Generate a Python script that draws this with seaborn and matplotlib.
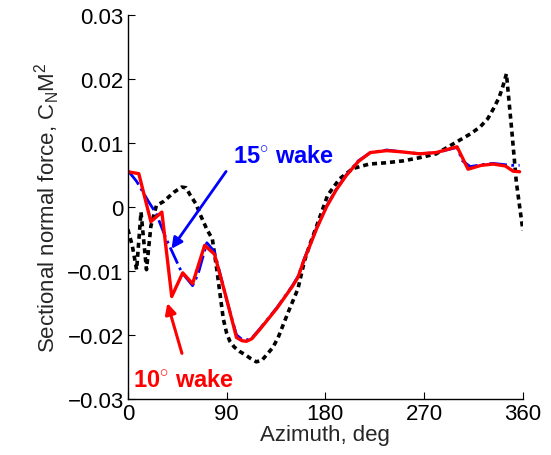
import numpy as np
import pandas as pd
import seaborn as sns
import matplotlib.pyplot as plt
from matplotlib.ticker import FuncFormatter

# azimuth (deg) and sectional normal force C_N M^2
black_az = [0, 4, 8, 12, 17, 21, 26, 33, 42, 49, 53, 57, 62, 66, 72, 77, 81, 87, 90, 93,
            97, 102, 107, 112, 117, 122, 126, 132, 137, 146, 155, 161, 166, 172, 182, 193,
            205, 220, 235, 251, 266, 281, 294, 303, 312, 321, 328, 333, 338, 341,
            345, 350, 354, 360]
black_cn = [-0.0035, -0.0060, -0.0098, -0.0008, -0.0098, -0.0030, 0.0002, 0.0009, 0.0023,
            0.0031, 0.0030, 0.0018, 0.0005, -0.0012, -0.0035, -0.0050, -0.0097, -0.0175,
            -0.0197, -0.0210, -0.0219, -0.0226, -0.0231, -0.0237, -0.0242, -0.0240, -0.0232,
            -0.0220, -0.0204, -0.0165, -0.0128, -0.0084, -0.0058, -0.0030, 0.0018, 0.0044,
            0.0060, 0.0067, 0.0069, 0.0072, 0.0077, 0.0083, 0.0096, 0.0105, 0.0114, 0.0125,
            0.0138, 0.0153, 0.0170, 0.0184, 0.0208, 0.0117, 0.0039, -0.0037]

blue_az = [0, 8, 19, 26, 35, 42, 49, 59, 64, 72, 79, 90, 99, 104, 108, 113, 120, 128, 136,
           143, 150, 155, 161, 166, 172, 181, 190, 199, 210, 221, 236, 250, 266, 281, 300,
           305, 312, 322, 333, 344, 350, 357]
blue_cn = [0.0057, 0.0040, 0.0008, -0.0011, -0.0050, -0.0076, -0.0102, -0.0123, -0.0105,
           -0.0056, -0.0070, -0.0145, -0.0200, -0.0207, -0.0208, -0.0205, -0.0191, -0.0174,
           -0.0157, -0.0140, -0.0123, -0.0109, -0.0080, -0.0059, -0.0033, 0.0001, 0.0028,
           0.0050, 0.0072, 0.0085, 0.0089, 0.0086, 0.0083, 0.0085, 0.0093, 0.0072,
           0.0063, 0.0066, 0.0068, 0.0066, 0.0065, 0.0065]

red_az = [0, 10, 21, 31, 40, 50, 59, 70, 79, 90, 99, 104, 108, 113, 120, 128, 136, 143,
          150, 155, 161, 166, 172, 181, 190, 199, 210, 221, 236, 250, 266, 281, 300, 310,
          322, 333, 344, 351, 357]
red_cn = [0.0055, 0.0052, -0.0023, -0.0008, -0.0140, -0.0103, -0.0120, -0.0060, -0.0074,
          -0.0144, -0.0204, -0.0209, -0.0210, -0.0206, -0.0192, -0.0175, -0.0158, -0.0141,
          -0.0124, -0.0110, -0.0081, -0.0060, -0.0034, 0.0000, 0.0027, 0.0049, 0.0071,
          0.0085, 0.0088, 0.0086, 0.0083, 0.0085, 0.0094, 0.0059, 0.0065, 0.0067,
          0.0064, 0.0056, 0.0055]

xticks = [0, 90, 180, 270, 360]
yticks = [-0.03, -0.02, -0.01, 0, 0.01, 0.02, 0.03]

black = pd.DataFrame({"az": black_az, "cn": black_cn})
blue = pd.DataFrame({"az": blue_az, "cn": blue_cn})
red = pd.DataFrame({"az": red_az, "cn": red_cn})

sns.set_style("white")
plt.rcParams["font.family"] = ["Liberation Sans", "DejaVu Sans"]
plt.rcParams["mathtext.fontset"] = "custom"
plt.rcParams["mathtext.rm"] = "Liberation Sans"

fig, ax = plt.subplots(figsize=(5.51, 4.56), dpi=100)
fig.subplots_adjust(left=0.232, right=0.949, top=0.965, bottom=0.123)

sns.lineplot(data=black, x="az", y="cn", ax=ax, color="black", lw=2.6,
             linestyle=(0, (1.4, 1.1)), sort=False)
sns.lineplot(data=blue, x="az", y="cn", ax=ax, color="#0000ff", lw=2,
             linestyle="-.", sort=False)
sns.lineplot(data=red, x="az", y="cn", ax=ax, color="#ff0000", lw=2.4, sort=False)

ax.set_xlim(0, 360)
ax.set_ylim(-0.03, 0.03)
ax.set_xticks(xticks)
ax.set_yticks(yticks)
ax.yaxis.set_major_formatter(FuncFormatter(
    lambda v, p: "0" if abs(v) < 1e-9 else ("%.2f" % v).replace("-", "\u2212")))
ax.tick_params(direction="in", length=5, width=0.8, labelsize=16, pad=3,
               left=True, bottom=True, colors="black")
for s in ["top", "right"]:
    ax.spines[s].set_visible(False)
for s in ["left", "bottom"]:
    ax.spines[s].set_color("black")
    ax.spines[s].set_linewidth(1)

ax.set_xlabel("Azimuth, deg", fontsize=16, labelpad=0)
ax.set_ylabel(r"Sectional normal force, $\mathrm{C_N M^2}$", fontsize=16, labelpad=4)

ax.text(95.6, 0.0080, r"15$^{\circ}$ wake", color="#0000ff", fontsize=17,
        fontweight="bold", ha="left", va="center")
ax.annotate("", xy=(38.3, -0.0069), xytext=(91, 0.0059),
            arrowprops=dict(arrowstyle="-|>", color="#0000ff", lw=2, mutation_scale=16))
ax.text(4.5, -0.0270, r"10$^{\circ}$ wake", color="#ff0000", fontsize=17,
        fontweight="bold", ha="left", va="center")
ax.annotate("", xy=(35.3, -0.0146), xytext=(50, -0.0233),
            arrowprops=dict(arrowstyle="-|>", color="#ff0000", lw=2.2, mutation_scale=16))

fig.savefig("out.png", dpi=100)
